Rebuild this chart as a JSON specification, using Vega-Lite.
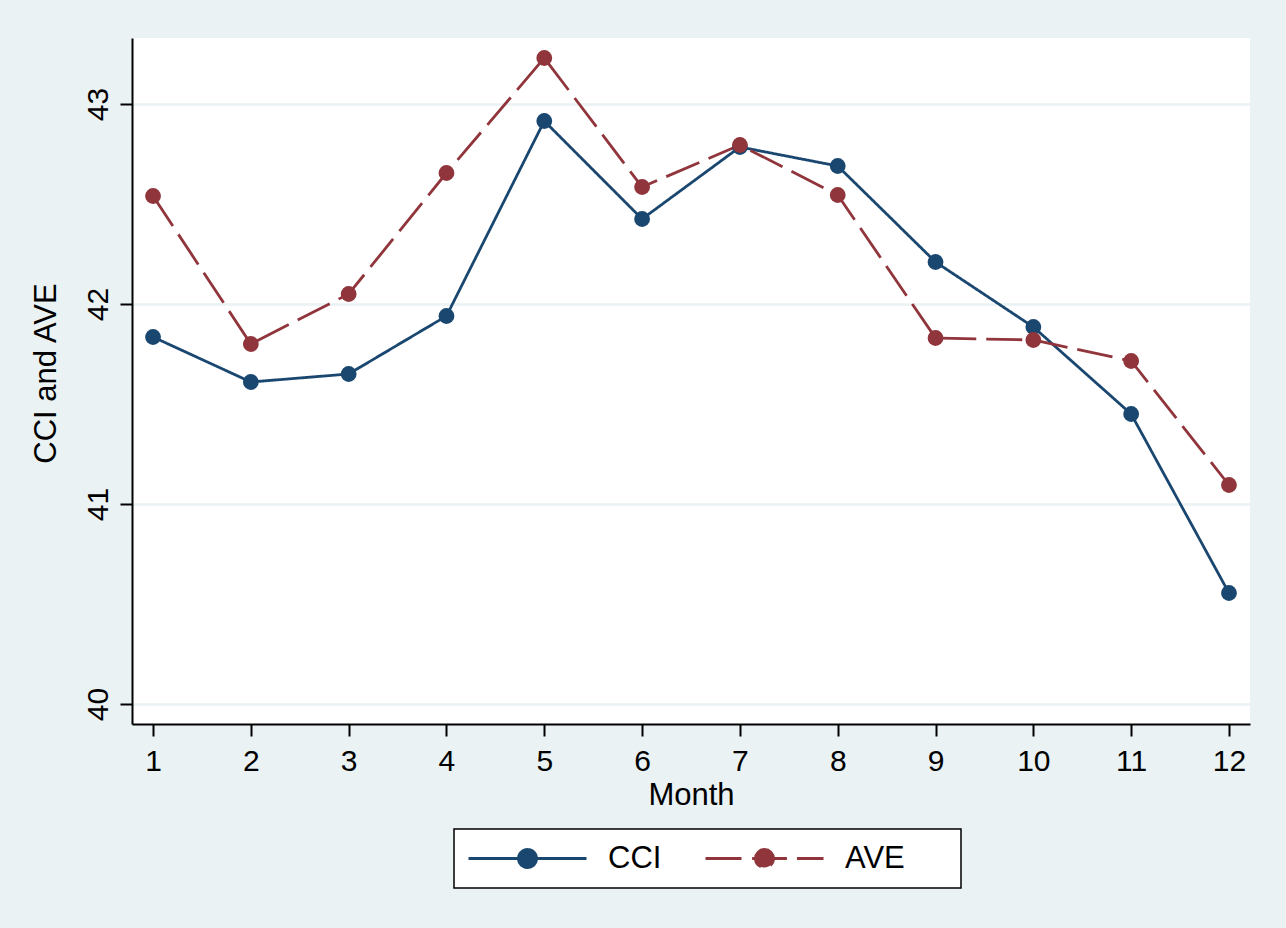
{
  "$schema": "https://vega.github.io/schema/vega-lite/v6.json",
  "width": 1118,
  "height": 686,
  "autosize": {"type": "none"},
  "padding": {"left": 132, "top": 38, "right": 36, "bottom": 204},
  "background": "#EAF2F3",
  "config": {
    "font": "Liberation Sans",
    "view": {"fill": "white", "stroke": null}
  },
  "data": {
    "values": [
      {"month": 1, "series": "CCI", "value": 41.835},
      {"month": 2, "series": "CCI", "value": 41.61},
      {"month": 3, "series": "CCI", "value": 41.65},
      {"month": 4, "series": "CCI", "value": 41.94},
      {"month": 5, "series": "CCI", "value": 42.915},
      {"month": 6, "series": "CCI", "value": 42.425},
      {"month": 7, "series": "CCI", "value": 42.785},
      {"month": 8, "series": "CCI", "value": 42.69},
      {"month": 9, "series": "CCI", "value": 42.21},
      {"month": 10, "series": "CCI", "value": 41.885},
      {"month": 11, "series": "CCI", "value": 41.45},
      {"month": 12, "series": "CCI", "value": 40.555},
      {"month": 1, "series": "AVE", "value": 42.54},
      {"month": 2, "series": "AVE", "value": 41.8},
      {"month": 3, "series": "AVE", "value": 42.05},
      {"month": 4, "series": "AVE", "value": 42.655},
      {"month": 5, "series": "AVE", "value": 43.23},
      {"month": 6, "series": "AVE", "value": 42.585},
      {"month": 7, "series": "AVE", "value": 42.795},
      {"month": 8, "series": "AVE", "value": 42.545},
      {"month": 9, "series": "AVE", "value": 41.83},
      {"month": 10, "series": "AVE", "value": 41.82},
      {"month": 11, "series": "AVE", "value": 41.715},
      {"month": 12, "series": "AVE", "value": 41.095}
    ]
  },
  "encoding": {
    "x": {
      "field": "month",
      "type": "quantitative",
      "scale": {"domain": [0.785, 12.215], "nice": false, "zero": false},
      "axis": {
        "title": "Month",
        "values": [1, 2, 3, 4, 5, 6, 7, 8, 9, 10, 11, 12],
        "format": "d",
        "grid": false,
        "domainColor": "black",
        "domainWidth": 2,
        "tickColor": "black",
        "tickWidth": 2,
        "tickSize": 12,
        "labelPadding": 10,
        "labelFontSize": 30,
        "labelColor": "black",
        "labelFont": "Liberation Sans",
        "titleFont": "Liberation Sans",
        "titleFontSize": 31,
        "titleFontWeight": "normal",
        "titleColor": "black",
        "titlePadding": 4
      }
    },
    "y": {
      "field": "value",
      "type": "quantitative",
      "scale": {"domain": [39.9, 43.33], "nice": false, "zero": false},
      "axis": {
        "title": "CCI and AVE",
        "values": [40, 41, 42, 43],
        "format": "d",
        "grid": true,
        "gridColor": "#EAF2F3",
        "gridWidth": 2.5,
        "domainColor": "black",
        "domainWidth": 2,
        "tickColor": "black",
        "tickWidth": 2,
        "tickSize": 12,
        "labelAngle": 270,
        "labelAlign": "center",
        "labelBaseline": "alphabetic",
        "labelPadding": 13,
        "labelFontSize": 30,
        "labelColor": "black",
        "labelFont": "Liberation Sans",
        "titleFont": "Liberation Sans",
        "titleFontSize": 31,
        "titleFontWeight": "normal",
        "titleColor": "black",
        "titleBaseline": "alphabetic",
        "titleAngle": 270,
        "titleX": -77,
        "titleY": 335
      }
    },
    "color": {
      "field": "series",
      "type": "nominal",
      "scale": {"domain": ["CCI", "AVE"], "range": ["#1a476f", "#90353b"]},
      "legend": {
        "title": null,
        "orient": "none",
        "legendX": 322,
        "legendY": 791,
        "direction": "horizontal",
        "columns": 2,
        "padding": 13,
        "fillColor": "white",
        "strokeColor": "black",
        "symbolSize": 13924,
        "clipHeight": 33,
        "symbolStrokeWidth": 2.8,
        "symbolOpacity": 1,
        "labelOffset": 20,
        "labelFontSize": 31,
        "labelFont": "Liberation Sans",
        "labelColor": "black",
        "columnPadding": 8,
        "labelExpr": "datum.value === 'CCI' ? datum.label + '\u00a0\u00a0\u00a0\u00a0\u200b' : datum.label + '\u00a0\u00a0\u00a0\u00a0\u00a0\u200b'",
        "encode": {
          "legend": {"update": {"strokeWidth": {"value": 1.5}}},
          "symbols": {
            "update": {
              "shape": {"signal": "datum.value === 'CCI' ? 'M-1,0H1M-0.153,0A0.153,0.153 0 1,1 0.153,0A0.153,0.153 0 1,1 -0.153,0Z' : 'M-1,0H-0.38M-0.21,0H0.38M0.55,0H1M-0.153,0A0.153,0.153 0 1,1 0.153,0A0.153,0.153 0 1,1 -0.153,0Z'"},
              "fill": {"signal": "datum.value === 'CCI' ? '#1a476f' : '#90353b'"},
              "stroke": {"signal": "datum.value === 'CCI' ? '#1a476f' : '#90353b'"},
              "strokeDash": {"value": []},
              "strokeWidth": {"value": 2.8},
              "opacity": {"value": 1}
            }
          }
        }
      }
    }
  },
  "layer": [
    {
      "mark": {"type": "line", "strokeWidth": 2.8},
      "encoding": {
        "strokeDash": {
          "field": "series",
          "type": "nominal",
          "scale": {"domain": ["CCI", "AVE"], "range": [[1, 0], [36, 10]]},
          "legend": null
        }
      }
    },
    {
      "mark": {"type": "point", "filled": true, "size": 250, "opacity": 1}
    }
  ]
}
